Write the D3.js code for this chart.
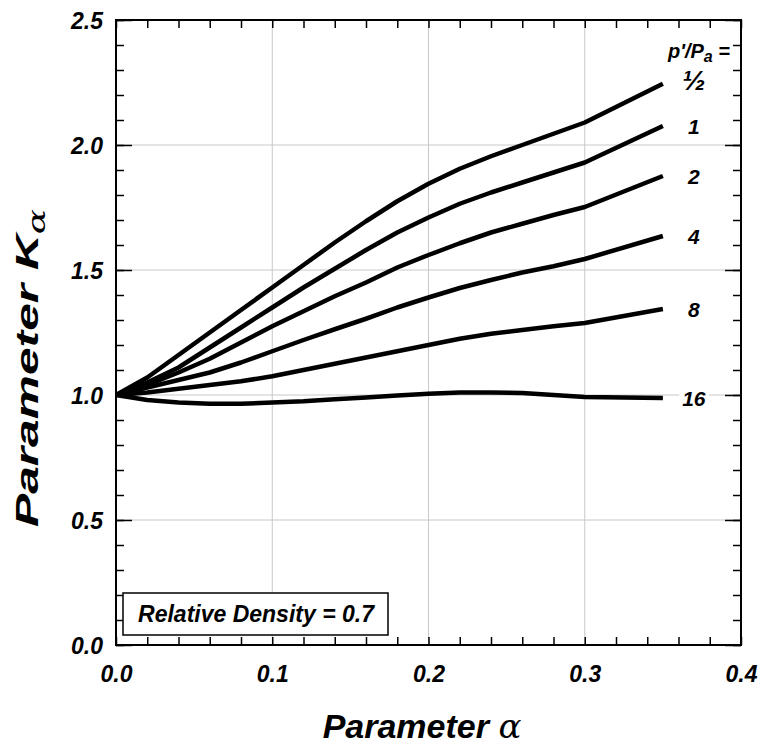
<!DOCTYPE html>
<html>
<head>
<meta charset="utf-8">
<script src="https://cdn.jsdelivr.net/npm/d3@7"></script>
<style>
  body { margin: 0; background: #fff; }
  svg { display: block; }
  text { font-family: "Liberation Sans", Arial, sans-serif; font-weight: bold; font-style: italic; fill: #000; }
</style>
</head>
<body>
<svg id="chart" width="764" height="746"></svg>
<script>
// ---- data ----
const alphaValues = [0, 0.02, 0.04, 0.06, 0.08, 0.10, 0.12, 0.14, 0.16, 0.18, 0.20, 0.22, 0.24, 0.26, 0.28, 0.30, 0.35];
const seriesLabels = ["½", "1", "2", "4", "8", "16"];
const kHalf = [1.0, 1.07, 1.16, 1.25, 1.34, 1.43, 1.52, 1.61, 1.695, 1.775, 1.845, 1.905, 1.955, 2.0, 2.045, 2.09, 2.245];
const kOne = [1.0, 1.05, 1.11, 1.19, 1.27, 1.35, 1.43, 1.505, 1.58, 1.65, 1.71, 1.765, 1.81, 1.85, 1.89, 1.93, 2.076];
const kTwo = [1.0, 1.04, 1.09, 1.145, 1.21, 1.275, 1.335, 1.395, 1.45, 1.51, 1.56, 1.607, 1.65, 1.685, 1.72, 1.752, 1.876];
const kFour = [1.0, 1.03, 1.06, 1.09, 1.13, 1.175, 1.22, 1.263, 1.305, 1.35, 1.39, 1.428, 1.46, 1.49, 1.515, 1.544, 1.636];
const kEight = [1.0, 1.01, 1.025, 1.04, 1.055, 1.075, 1.10, 1.125, 1.15, 1.175, 1.20, 1.225, 1.245, 1.26, 1.275, 1.288, 1.344];
const kSixteen = [1.0, 0.98, 0.97, 0.965, 0.965, 0.97, 0.975, 0.983, 0.99, 0.998, 1.005, 1.01, 1.01, 1.008, 1.0, 0.992, 0.988];
const seriesValues = [kHalf, kOne, kTwo, kFour, kEight, kSixteen];
const xMajorTicks = [0, 0.1, 0.2, 0.3, 0.4];
const yMajorTicks = [0, 0.5, 1.0, 1.5, 2.0, 2.5];
const boxText = "Relative Density = 0.7";

// ---- layout ----
const svg = d3.select("#chart");
const L = 116, R = 741, T = 20, B = 645;
const x = d3.scaleLinear().domain([0, 0.4]).range([L, R]);
const y = d3.scaleLinear().domain([0, 2.5]).range([B, T]);
const xMinor = d3.range(0, 0.4001, 0.02);
const yMinor = d3.range(0, 2.5001, 0.1);
const fmt = d3.format(".1f");

// grid
const grid = svg.append("g").attr("stroke", "#c8c8c8").attr("stroke-width", 1);
xMajorTicks.filter(v => v > 0 && v < 0.4).forEach(v => {
  grid.append("line").attr("x1", x(v)).attr("x2", x(v)).attr("y1", T).attr("y2", B);
});
yMajorTicks.filter(v => v > 0 && v < 2.5).forEach(v => {
  grid.append("line").attr("x1", L).attr("x2", R).attr("y1", y(v)).attr("y2", y(v));
});

function styleAxis(g) {
  g.select(".domain").remove();
  g.attr("font-size", null).attr("font-family", null);
  g.selectAll(".tick line").attr("stroke", "#000").attr("stroke-width", 1.5);
}

// minor ticks
svg.append("g").attr("transform", `translate(0,${B})`)
  .call(d3.axisBottom(x).tickValues(xMinor).tickSize(-8).tickFormat("")).call(styleAxis);
svg.append("g").attr("transform", `translate(0,${T})`)
  .call(d3.axisTop(x).tickValues(xMinor).tickSize(-8).tickFormat("")).call(styleAxis);
svg.append("g").attr("transform", `translate(${L},0)`)
  .call(d3.axisLeft(y).tickValues(yMinor).tickSize(-8).tickFormat("")).call(styleAxis);
svg.append("g").attr("transform", `translate(${R},0)`)
  .call(d3.axisRight(y).tickValues(yMinor).tickSize(-8).tickFormat("")).call(styleAxis);
// major ticks on y
svg.append("g").attr("transform", `translate(${R},0)`)
  .call(d3.axisRight(y).tickValues(yMajorTicks).tickSize(-16).tickFormat("")).call(styleAxis);
const yAx = svg.append("g").attr("transform", `translate(${L},0)`)
  .call(d3.axisLeft(y).tickValues(yMajorTicks).tickSize(-16).tickFormat(fmt)).call(styleAxis);
yAx.selectAll("text").attr("font-size", 23).attr("x", -13).attr("dy", "0.36em");

const xAx = svg.append("g").attr("transform", `translate(0,${B})`)
  .call(d3.axisBottom(x).tickValues(xMajorTicks).tickSize(0).tickPadding(21).tickFormat(fmt)).call(styleAxis);
xAx.selectAll("text").attr("font-size", 23).attr("dy", "0.71em");

// curves
const line = d3.line().x((d, i) => x(alphaValues[i])).y(d => y(d)).curve(d3.curveLinear);
seriesValues.forEach(vals => {
  svg.append("path").attr("d", line(vals)).attr("fill", "none")
    .attr("stroke", "#000").attr("stroke-width", 4.5).attr("stroke-linejoin", "round").attr("stroke-linecap", "butt");
});

// curve labels
seriesValues.forEach((vals, i) => {
  const isHalf = seriesLabels[i] === "½";
  const lx = x(alphaValues[alphaValues.length - 1]) + 31;
  const ly = y(vals[vals.length - 1]) - (isHalf ? 6 : 0);
  const t = svg.append("text").attr("x", lx).attr("y", ly).attr("dy", isHalf ? "0.42em" : "0.36em")
    .attr("text-anchor", "middle").attr("font-size", isHalf ? 28 : 21).text(seriesLabels[i]);
  const bb = t.node().getBBox();
  svg.insert("rect", () => t.node())
    .attr("x", bb.x - 3).attr("y", bb.y + 2).attr("width", bb.width + 6).attr("height", bb.height - 4).attr("fill", "#fff");
});

// header of labels
const hdr = svg.append("text").attr("x", 699).attr("y", 58).attr("text-anchor", "middle").attr("font-size", 20);
hdr.append("tspan").text("p'/P");
hdr.append("tspan").attr("dy", 4).attr("font-size", 16).text("a");
hdr.append("tspan").attr("dy", -4).text(" =");

// frame
svg.append("rect").attr("x", L).attr("y", T).attr("width", R - L).attr("height", B - T)
  .attr("fill", "none").attr("stroke", "#000").attr("stroke-width", 2);

// info box
svg.append("rect").attr("x", 123).attr("y", 593).attr("width", 265).attr("height", 42)
  .attr("fill", "#fff").attr("stroke", "#000").attr("stroke-width", 1.5);
svg.append("text").attr("x", 256).attr("y", 614).attr("dy", "0.36em").attr("text-anchor", "middle")
  .attr("font-size", 23).text(boxText);

// axis titles
const xt = svg.append("text").attr("x", 422).attr("y", 738).attr("text-anchor", "middle").attr("font-size", 34);
xt.append("tspan").text("Parameter ");
xt.append("tspan").style("font-family", "'DejaVu Serif', serif").style("font-weight", "normal").text("α");

const yt = svg.append("text").attr("transform", `translate(38,${368}) rotate(-90)`).attr("text-anchor", "middle")
  .attr("font-size", 32).attr("textLength", 318).attr("lengthAdjust", "spacingAndGlyphs");
yt.append("tspan").text("Parameter K");
yt.append("tspan").attr("dy", 7).attr("font-size", 24).style("font-family", "'DejaVu Serif', serif").style("font-weight", "normal").text("α");
</script>
</body>
</html>
